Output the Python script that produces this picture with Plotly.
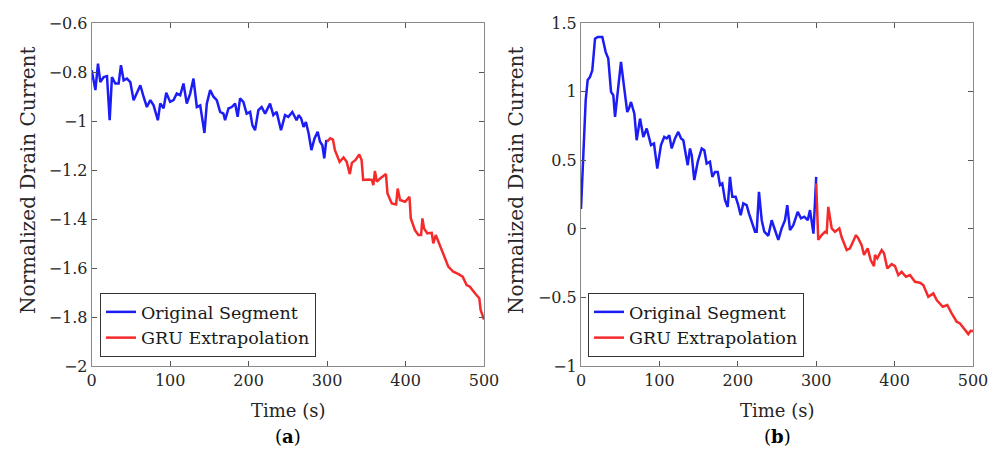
import plotly.graph_objects as go

# ---------------- data ----------------
a_orig_t = [0, 4.7, 8, 11, 15.3, 19.5, 22.9, 25.8, 30.1, 34.3, 37.3, 40.7, 44.9, 49.2, 53.4, 57.6, 62, 66.1,
            70.3, 74.7, 78.9, 84.3, 87.4, 91.6, 95, 100, 104.3, 108.5, 112.8, 117, 121.2, 125.5, 129.7, 134,
            138.3, 143.7, 146.7, 151, 155.2, 159.4, 163.7, 167.9, 170, 174.3, 178.5, 182.8, 186, 189.1, 193.3,
            197.5, 201.9, 204.8, 208.2, 212.4, 216.6, 221, 227.3, 231.5, 235.7, 241.3, 246.4, 250.6, 255.7,
            261.1, 264, 267, 270, 273, 276.5, 280, 284, 288, 291, 294, 296.4, 299, 300]
a_orig_v = [-0.792, -0.873, -0.765, -0.84, -0.82, -0.816, -0.996, -0.82, -0.846, -0.846, -0.771, -0.833, -0.826,
            -0.84, -0.914, -0.887, -0.853, -0.9, -0.942, -0.914, -0.935, -0.996, -0.927, -0.947, -0.884, -0.921,
            -0.914, -0.887, -0.894, -0.846, -0.928, -0.887, -0.826, -0.942, -0.935, -1.048, -0.928, -0.873, -0.9,
            -0.914, -0.962, -0.969, -0.996, -0.948, -0.942, -0.928, -0.982, -0.907, -0.921, -0.969, -0.962,
            -1.016, -1.037, -0.955, -0.942, -0.969, -0.928, -0.975, -0.962, -1.037, -0.975, -0.982, -0.962,
            -0.996, -0.975, -0.989, -1.023, -1.003, -1.05, -1.118, -1.07, -1.043, -1.084, -1.098, -1.152,
            -1.077, -1.084]

a_gru_t = [300, 304, 307.5, 310, 316, 321, 325, 329, 331.6, 336, 341, 344, 346, 352.7, 357, 359, 361, 363.4,
           367.6, 375, 377, 382.5, 388, 390, 393, 399.4, 405, 406.7, 412, 416.4, 419.8, 421.5, 423.6, 427.8,
           433.4, 435.4, 438.5, 441.8, 446, 450.3, 454.5, 460.9, 467, 472.8, 477.9, 482, 488.5, 494, 495.7,
           499, 500]
a_gru_v = [-1.084, -1.07, -1.075, -1.118, -1.166, -1.148, -1.166, -1.216, -1.17, -1.159, -1.136, -1.159, -1.24,
           -1.238, -1.24, -1.261, -1.203, -1.247, -1.234, -1.216, -1.295, -1.336, -1.34, -1.275, -1.322,
           -1.329, -1.309, -1.397, -1.445, -1.465, -1.465, -1.397, -1.438, -1.458, -1.456, -1.499, -1.465,
           -1.492, -1.533, -1.56, -1.594, -1.615, -1.624, -1.635, -1.669, -1.676, -1.703, -1.723, -1.771,
           -1.805, -1.81]

b_orig_t = [0, 2.9, 6, 8.5, 11.5, 14.4, 17.9, 21.3, 27.2, 31.5, 34.8, 38.3, 41.2, 43.4, 46.8, 51, 55.2, 59,
            61.2, 63.8, 68, 71, 75.3, 79.5, 83.8, 89.3, 93.1, 97.3, 102, 106.2, 109.3, 112.6, 115.7, 119.9,
            124.1, 127.6, 130.5, 136.1, 139, 141.2, 144.5, 148.9, 154, 157.3, 160.3, 164.5, 167.5, 170.9,
            174.4, 177.3, 180.2, 183.7, 187.1, 190, 193, 197.3, 200.6, 203.7, 207, 211.3, 214.3, 218.5, 222,
            224.1, 227, 230.5, 233.8, 238.9, 243.2, 247.4, 251.7, 256, 260.2, 263.1, 266.6, 270.8, 273.9,
            276.4, 280.6, 284.8, 289.2, 292.1, 296.5, 300]
b_orig_v = [0.145, 0.49, 0.94, 1.086, 1.109, 1.157, 1.388, 1.4, 1.4, 1.29, 1.243, 1.0, 0.975, 0.817, 1.012,
            1.218, 1.024, 0.853, 0.878, 0.926, 0.842, 0.647, 0.805, 0.671, 0.733, 0.611, 0.623, 0.44, 0.611,
            0.671, 0.66, 0.684, 0.587, 0.66, 0.708, 0.66, 0.647, 0.465, 0.587, 0.538, 0.356, 0.49, 0.587,
            0.574, 0.477, 0.49, 0.38, 0.416, 0.416, 0.32, 0.332, 0.21, 0.16, 0.38, 0.234, 0.234, 0.173, 0.1,
            0.186, 0.173, 0.112, 0.04, -0.02, -0.02, 0.27, 0.064, -0.02, -0.05, 0.064, -0.008, -0.08, 0.005,
            0.064, 0.173, -0.008, 0.028, 0.089, 0.125, 0.077, 0.089, 0.064, 0.137, -0.034, 0.38]

b_gru_t = [300, 302.6, 307, 311.2, 313.4, 315.4, 319.8, 324, 329.5, 332.5, 338.9, 343.1, 350.8, 353.7, 358,
           361, 365.7, 369.5, 373.7, 375, 377.9, 383.5, 386.5, 390.7, 396.3, 400.5, 404.7, 409, 414.5, 419.6,
           426, 432.4, 436.6, 443, 449.4, 453.7, 461.4, 467.2, 472.8, 479.2, 483.4, 488.5, 494, 497, 500]
b_gru_v = [0.332, -0.08, -0.045, -0.021, -0.028, 0.161, 0.004, -0.021, 0.004, -0.061, -0.154, -0.142, -0.045,
           -0.069, -0.118, -0.19, -0.142, -0.227, -0.271, -0.19, -0.215, -0.154, -0.178, -0.288, -0.257,
           -0.271, -0.337, -0.313, -0.349, -0.337, -0.386, -0.393, -0.41, -0.495, -0.47, -0.519, -0.568,
           -0.555, -0.616, -0.677, -0.689, -0.725, -0.767, -0.743, -0.745]

x_ticks = [0, 100, 200, 300, 400, 500]
a_y_ticks = [-2, -1.8, -1.6, -1.4, -1.2, -1, -0.8, -0.6]
b_y_ticks = [-1, -0.5, 0, 0.5, 1, 1.5]

# ---------------- figure ----------------
# The page body has an 8px margin; the figure starts 8px in and runs to the window's edge.
OFF = 8
W, H = 997 - OFF, 450 - OFF
BLUE = "#1c1cf5"
RED = "#f52a2a"
FONT = "DejaVu Serif"

def px(x):
    return (x - OFF) / W

def py(y):
    return 1 - (y - OFF) / H

fig = go.Figure()
fig.add_trace(go.Scatter(x=a_orig_t, y=a_orig_v, mode="lines", name="Original Segment",
                         line=dict(color=BLUE, width=2.5), xaxis="x", yaxis="y", legend="legend"))
fig.add_trace(go.Scatter(x=a_gru_t, y=a_gru_v, mode="lines", name="GRU Extrapolation",
                         line=dict(color=RED, width=2.5), xaxis="x", yaxis="y", legend="legend"))
fig.add_trace(go.Scatter(x=b_orig_t, y=b_orig_v, mode="lines", name="Original Segment",
                         line=dict(color=BLUE, width=2.5), xaxis="x2", yaxis="y2", legend="legend2"))
fig.add_trace(go.Scatter(x=b_gru_t, y=b_gru_v, mode="lines", name="GRU Extrapolation",
                         line=dict(color=RED, width=2.5), xaxis="x2", yaxis="y2", legend="legend2"))

ax_common = dict(showline=True, linecolor="#8a8a8a", linewidth=1, mirror="ticks", ticks="inside",
                 ticklen=5, tickcolor="#555555", showgrid=False, zeroline=False, automargin=False,
                 tickfont=dict(family=FONT, size=16, color="#262626"))

top, bot = 23.3, 366
legend_style = dict(xanchor="left", yanchor="bottom", bgcolor="white", bordercolor="#333333",
                    borderwidth=1, font=dict(family=FONT, size=17.5, color="#1a1a1a"), tracegroupgap=0)
fig.update_layout(
    width=W, height=H, margin=dict(l=0, r=0, t=0, b=0, pad=0, autoexpand=False),
    paper_bgcolor="white", plot_bgcolor="white",
    xaxis=dict(domain=[px(91.7), px(484)], range=[0, 500], tickvals=x_ticks, anchor="y", **ax_common),
    yaxis=dict(domain=[py(bot), py(top)], range=[-2, -0.6], tickvals=a_y_ticks, anchor="x", **ax_common),
    xaxis2=dict(domain=[px(581), px(973)], range=[0, 500], tickvals=x_ticks, anchor="y2", **ax_common),
    yaxis2=dict(domain=[py(bot), py(top)], range=[-1, 1.5], tickvals=b_y_ticks, anchor="x2", **ax_common),
    legend=dict(x=px(100), y=py(357), **legend_style),
    legend2=dict(x=px(588), y=py(357), **legend_style),
    showlegend=True,
)

anns = []
for cx, lbl in [(288, "(<b>a</b>)"), (777, "(<b>b</b>)")]:
    anns.append(dict(x=px(cx), y=py(410), xref="paper", yref="paper", text="Time (s)", showarrow=False,
                     font=dict(family=FONT, size=18, color="#262626"), xanchor="center", yanchor="middle"))
    anns.append(dict(x=px(cx), y=py(436), xref="paper", yref="paper", text=lbl, showarrow=False,
                     font=dict(family=FONT, size=18, color="#000000"), xanchor="center", yanchor="middle"))
for cx in [28, 516]:
    anns.append(dict(x=px(cx), y=py(180), xref="paper", yref="paper", text="Normalized Drain Current",
                     textangle=-90, showarrow=False, font=dict(family=FONT, size=20, color="#262626"),
                     xanchor="center", yanchor="middle"))
fig.update_layout(annotations=anns)

fig.write_html("out.html")
